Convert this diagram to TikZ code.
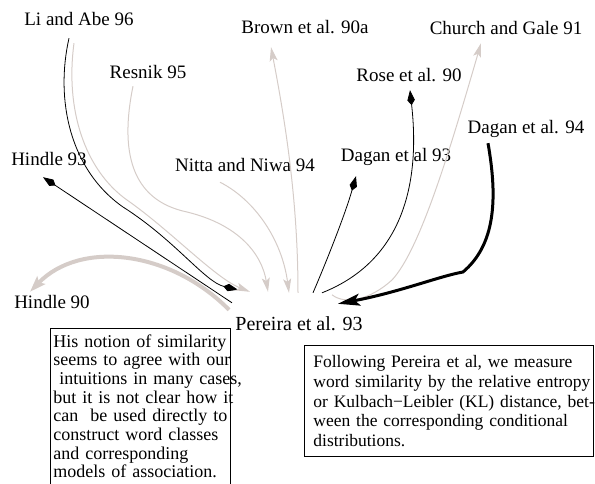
\documentclass[tikz,border=0pt]{standalone}
\usepackage{fontspec}
\setmainfont{Liberation Serif}
\usetikzlibrary{arrows.meta}
\definecolor{citegray}{RGB}{213,204,200}

\begin{document}
\begin{tikzpicture}[x=1pt, y=-1pt,
	lab/.style={inner sep=2pt, text height=13pt, text depth=4pt, anchor=base, font=\fontsize{19}{22}\selectfont},
	quote/.style={draw, thick, anchor=north west, align=left},
	cites/.style={draw=black, line width=0.8pt, -{Kite[length=15pt,width=7.5pt,inset=5pt]}},
	citedby/.style={draw=citegray, line width=1pt, -{Stealth[length=14pt,width=8pt,inset=3pt]}}]
	\useasboundingbox (0,0) rectangle (595,484);

	% Nodes {li, brown, church, resnik, rose, etc}
	\node [lab] (li)       at (79,26)   {Li and Abe 96};
	\node [lab] (brown)    at (305,34)  {Brown et al. 90a};
	\node [lab] (church)   at (506,35)  {Church and Gale 91};
	\node [lab] (resnik)   at (148,79)  {Resnik 95};
	\node [lab] (rose)     at (409,82)  {Rose et al. 90};
	\node [lab] (dagan94)  at (526,134) {Dagan et al. 94};
	\node [lab] (dagan93)  at (396,162) {Dagan et al 93};
	\node [lab] (hindle93) at (49,166)  {Hindle 93};
	\node [lab] (nitta)    at (245,172) {Nitta and Niwa 94};
	\node [lab] (hindle90) at (52,308)  {Hindle 90};
	\node [lab, font=\fontsize{20}{22}\selectfont] (per) at (299,330) {Pereira et al. 93};

	% Boxes, one line per \mbox so nothing wraps
	\node [quote, text width=174pt, inner xsep=3pt, inner ysep=6pt,
		font=\fontsize{18}{18.7}\selectfont] (lquote) at (50,328)
	{\mbox{His notion of similarity}\\
	\mbox{seems to agree with our}\\
	\mbox{\ intuitions in many cases,}\\
	\mbox{but it is not clear how it}\\
	\mbox{can\ \ be used directly to}\\
	\mbox{construct word classes}\\
	\mbox{and corresponding}\\
	\mbox{models of association.}};

	\node [quote, text width=271pt, inner xsep=9pt, inner ysep=10pt,
		font=\fontsize{17.5}{19.75}\selectfont] (rquote) at (304,345)
	{\mbox{Following Pereira et al, we measure}\\
	\mbox{word similarity by the relative entropy}\\
	\mbox{or Kulbach−Leibler (KL) distance, bet-}\\
	\mbox{ween the corresponding conditional}\\
	\mbox{distributions.}};

	% Paths
	\draw [cites] ([xshift=-10pt,yshift=-6pt]li.south) .. controls (55,100) and (70,170) .. (123,207)
		.. controls (175,240) and (205,282) .. ([xshift=-61pt,yshift=25pt]per.north);
	\draw [citedby] ([xshift=-5pt,yshift=-11pt]li.south) .. controls (65,110) and (85,170) .. (127,200)
		.. controls (170,230) and (215,278) .. ([xshift=-49pt,yshift=23pt]per.north);
	\draw [cites] ([xshift=-67pt,yshift=12pt]per.north) -- ([xshift=-6pt,yshift=-5pt]hindle93.south);
	\draw [citedby, line width=4pt, -{Stealth[length=16pt,width=11pt,inset=3pt]}]
		([xshift=-70pt,yshift=5pt]per.north) .. controls (170,250) and (80,240) .. ([xshift=-22pt,yshift=1pt]hindle90.north);
	\draw [citedby] ([xshift=-15pt,yshift=-1pt]resnik.south) .. controls (120,150) and (130,200) .. (187,212)
		.. controls (240,225) and (262,255) .. ([xshift=-31pt,yshift=23pt]per.north);
	\draw [citedby] ([xshift=-25pt,yshift=-4pt]nitta.south) .. controls (255,200) and (282,240) .. ([xshift=-10pt,yshift=22pt]per.north);
	\draw [citedby] ([xshift=-1pt,yshift=22pt]per.north) .. controls (298,200) and (285,120) .. ([xshift=-34pt,yshift=-7pt]brown.south);
	\draw [cites] ([xshift=14pt,yshift=22pt]per.north) .. controls (325,265) and (345,215) .. ([xshift=-40pt,yshift=-8pt]dagan93.south);
	\draw [cites] ([xshift=23pt,yshift=22pt]per.north) .. controls (405,260) and (420,180) .. ([xshift=1pt,yshift=-2pt]rose.south);
	\draw [citedby] ([xshift=33pt,yshift=20pt]per.north) .. controls (345,305) and (370,300) .. (392,280)
		.. controls (420,250) and (450,150) .. ([xshift=-25pt,yshift=-2pt]church.south);
	\draw [cites, line width=3pt, -{Stealth[length=22pt,width=12pt,inset=5pt]}]
		([xshift=-38pt,yshift=-3pt]dagan94.south) .. controls (498,200) and (495,245) .. (463,272)
		.. controls (440,276) and (400,292) .. ([xshift=39pt,yshift=11pt]per.north);

\end{tikzpicture}
\end{document}
